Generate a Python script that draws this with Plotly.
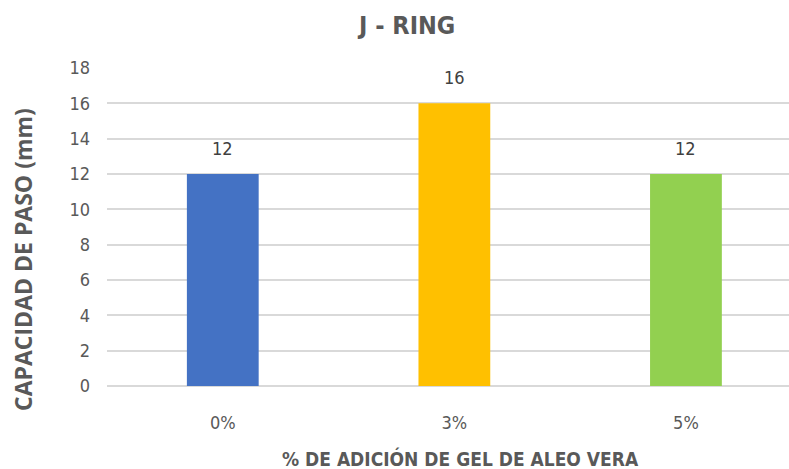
import plotly.graph_objects as go

# J-Ring passing ability by aloe vera gel dosage
categories = ["0%", "3%", "5%"]
values = [12, 16, 12]
bar_colors = ["#4472C4", "#FFC000", "#92D050"]
y_ticks = [0, 2, 4, 6, 8, 10, 12, 14, 16, 18]

TEXT = "#595959"
NARROW = "DejaVu Sans Condensed"

fig = go.Figure()
fig.add_trace(go.Bar(
    x=categories,
    y=values,
    marker=dict(color=bar_colors, line=dict(width=0)),
    showlegend=False,
    hoverinfo="x+y",
))

# value labels floating above each bar
for c, v in zip(categories, values):
    fig.add_annotation(
        x=c, y=v, text=str(v), showarrow=False,
        yshift=26, font=dict(family=NARROW, size=18, color="#404040"),
    )

fig.add_annotation(
    text="<b>J - RING</b>", xref="paper", yref="paper",
    x=0.438, y=1, xanchor="center", yanchor="middle", yshift=43,
    showarrow=False, font=dict(family=NARROW, size=25, color=TEXT),
)
fig.add_annotation(
    text="<b>CAPACIDAD DE PASO (mm)</b>", xref="paper", yref="paper",
    x=0, y=0.5, xanchor="center", yanchor="middle", xshift=-84, yshift=-33,
    textangle=-90, showarrow=False,
    font=dict(family="Open Sans", size=23, color=TEXT),
)
fig.add_annotation(
    text="<b>% DE ADICIÓN DE GEL DE ALEO VERA</b>", xref="paper", yref="paper",
    x=0.5, y=0, xanchor="center", yanchor="middle", yshift=-72, xshift=12,
    showarrow=False, font=dict(family=NARROW, size=19, color=TEXT),
)

fig.update_layout(
    width=789, height=469,
    margin=dict(l=107, r=0, t=68, b=83),
    paper_bgcolor="white", plot_bgcolor="white",
    bargap=0.69,
    xaxis=dict(
        range=[-0.5, 2.445], showgrid=False, zeroline=False,
        showline=False, ticks="", ticklabelstandoff=24,
        tickfont=dict(family=NARROW, size=18, color=TEXT),
    ),
    yaxis=dict(
        range=[0, 18], tickvals=y_ticks, showgrid=True,
        gridcolor="#D9D9D9", gridwidth=1.5, zeroline=True,
        zerolinecolor="#D9D9D9", zerolinewidth=1.5, showline=False,
        ticks="", ticklabelstandoff=16,
        tickfont=dict(family=NARROW, size=18, color=TEXT),
    ),
)

fig.write_html("out.html")
